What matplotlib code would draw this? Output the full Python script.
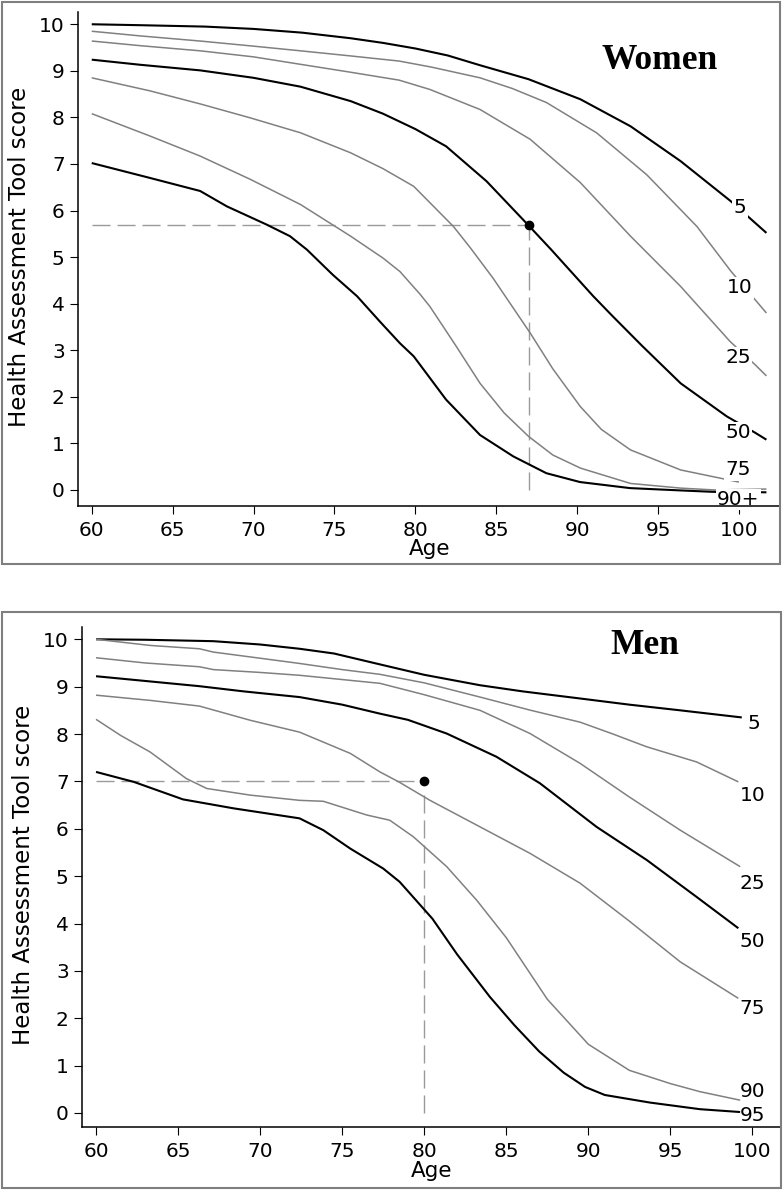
import matplotlib
matplotlib.use("Agg")
import matplotlib.pyplot as plt
from matplotlib.patches import Rectangle

# ---------------- Women (top panel) ----------------
w5_age = [60, 63, 67, 70, 73, 76, 78, 80, 82, 84, 87, 90.2, 93.3, 96.4, 99.5, 101.7]
w5_val = [10.0, 9.98, 9.95, 9.9, 9.82, 9.7, 9.6, 9.48, 9.33, 9.12, 8.82, 8.39, 7.81, 7.06, 6.2, 5.52]
w10_age = [60, 63, 66.7, 70, 72.9, 76, 79, 81, 84, 86, 88.1, 91.2, 94.3, 97.4, 99.5, 101.7]
w10_val = [9.85, 9.75, 9.64, 9.53, 9.43, 9.32, 9.21, 9.08, 8.85, 8.62, 8.32, 7.67, 6.77, 5.66, 4.7, 3.8]
w25_age = [60, 63, 66.7, 70, 72.9, 76, 79, 80.9, 84, 87.1, 90.2, 93.3, 96.4, 99.45, 101, 101.7]
w25_val = [9.64, 9.54, 9.43, 9.3, 9.14, 8.97, 8.8, 8.6, 8.17, 7.53, 6.6, 5.45, 4.37, 3.19, 2.69, 2.45]
w50_age = [60, 63, 66.7, 70, 72.9, 76, 78, 80, 81.9, 84.4, 87, 88.4, 91, 92.2, 94, 96.4, 99.25, 101, 101.7]
w50_val = [9.24, 9.13, 9.01, 8.85, 8.66, 8.35, 8.08, 7.75, 7.38, 6.63, 5.68, 5.16, 4.16, 3.73, 3.1, 2.29, 1.58, 1.23, 1.08]
w75_age = [60, 63.6, 66.7, 69.8, 72.9, 76, 78, 79.9, 82.35, 83.4, 84.8, 87.1, 88.5, 90.2, 91.5, 93.3, 96.4, 100]
w75_val = [8.85, 8.57, 8.29, 7.99, 7.67, 7.24, 6.9, 6.52, 5.66, 5.2, 4.55, 3.37, 2.6, 1.79, 1.3, 0.86, 0.43, 0.17]
w90_age = [60, 63.6, 66.7, 69.8, 72.9, 76, 78, 79.05, 80.3, 80.9, 82.5, 84, 85.5, 87, 88.5, 90.2, 93.3, 96.4, 98.5, 101.7]
w90_val = [8.08, 7.6, 7.17, 6.67, 6.13, 5.45, 4.98, 4.69, 4.2, 3.94, 3.1, 2.29, 1.65, 1.15, 0.75, 0.47, 0.14, 0.04, 0.0, 0.02]
w95_age = [60, 63.6, 66.7, 68.35, 70.8, 72.25, 73.3, 74.9, 76.4, 77.8, 79.05, 79.9, 81.9, 84, 86.06, 88.1, 90.18, 93.27, 96.4, 98.4, 101.7]
w95_val = [7.02, 6.7, 6.42, 6.09, 5.7, 5.45, 5.16, 4.62, 4.16, 3.62, 3.15, 2.87, 1.94, 1.18, 0.72, 0.36, 0.17, 0.04, -0.01, -0.04, -0.05]

# ---------------- Men (bottom panel) ----------------
m5_age = [60, 63, 67.15, 70, 72.4, 74.5, 77.3, 80, 83.4, 86, 89.5, 92.5, 95.6, 99.35]
m5_val = [10.0, 9.99, 9.96, 9.89, 9.8, 9.7, 9.47, 9.25, 9.03, 8.9, 8.75, 8.62, 8.5, 8.35]
m10_age = [60, 63.3, 66.3, 67.15, 70, 72.4, 75, 77.3, 80, 83.4, 86.5, 89.5, 91.5, 93.56, 96.6, 99.14]
m10_val = [10.0, 9.87, 9.8, 9.73, 9.6, 9.49, 9.36, 9.26, 9.08, 8.78, 8.5, 8.25, 8.0, 7.73, 7.41, 6.99]
m25_age = [60, 63, 66.3, 67.15, 70, 72.4, 75, 77.3, 80, 83.4, 86.45, 89.5, 92.5, 95.6, 99.25]
m25_val = [9.61, 9.5, 9.42, 9.36, 9.3, 9.24, 9.15, 9.07, 8.83, 8.5, 8.01, 7.38, 6.67, 5.97, 5.2]
m50_age = [60, 63, 66.3, 69, 72.4, 75, 77.3, 79, 81.37, 84.4, 87.05, 90.5, 93.56, 96.6, 99.14]
m50_val = [9.22, 9.12, 9.01, 8.9, 8.78, 8.62, 8.43, 8.3, 8.01, 7.52, 6.96, 6.04, 5.34, 4.56, 3.9]
m75_age = [60, 63.3, 66.3, 69.4, 72.4, 75.5, 77.3, 78.5, 80.35, 83.4, 86.45, 89.5, 92.5, 95.6, 99.14]
m75_val = [8.82, 8.71, 8.59, 8.29, 8.04, 7.59, 7.2, 6.98, 6.6, 6.04, 5.48, 4.85, 4.05, 3.19, 2.42]
m90_age = [60, 61.5, 63.3, 65.5, 66.75, 69.4, 72.4, 73.85, 76.5, 77.9, 79.34, 81.37, 83.2, 85, 87.5, 90, 92.5, 95, 96.8, 99.25]
m90_val = [8.31, 7.97, 7.62, 7.06, 6.85, 6.71, 6.6, 6.58, 6.29, 6.18, 5.83, 5.2, 4.49, 3.7, 2.4, 1.45, 0.9, 0.62, 0.45, 0.27]
m95_age = [60, 62.3, 65.3, 68.4, 72.4, 73.85, 75.5, 77.5, 78.5, 79.5, 80.5, 82, 84, 85.5, 87, 88.5, 89.8, 91, 93.75, 96.8, 99.25]
m95_val = [7.2, 6.99, 6.62, 6.43, 6.22, 5.97, 5.58, 5.16, 4.88, 4.49, 4.1, 3.35, 2.45, 1.85, 1.3, 0.85, 0.55, 0.38, 0.22, 0.08, 0.02]

percentile_labels_women = ["5", "10", "25", "50", "75", "90+"]
percentile_labels_men = ["5", "10", "25", "50", "75", "90", "95"]
yticks = list(range(0, 11))
xticks = [60, 65, 70, 75, 80, 85, 90, 95, 100]

women_point = (87, 5.68)
men_point = (80, 7.0)

BLACK = "#000000"
GRAY = "#808080"
DASH = "#9a9a9a"
styles = [(BLACK, 1.5), (GRAY, 1.1), (GRAY, 1.1), (BLACK, 1.5), (GRAY, 1.1), (GRAY, 1.1), (BLACK, 1.5)]

TICK_FS = 14.5
fig = plt.figure(figsize=(7.84, 11.93), dpi=100)

# frames
fig.patches.append(Rectangle((0.0029, 0.5272), 0.992, 0.4708, transform=fig.transFigure,
                             fill=False, edgecolor="#7f7f7f", linewidth=1.5, zorder=0))
fig.patches.append(Rectangle((0.0029, 0.0042), 0.9932, 0.4826, transform=fig.transFigure,
                             fill=False, edgecolor="#7f7f7f", linewidth=1.5, zorder=0))

ax1 = fig.add_axes([0.0999, 0.5761, 0.895, 0.4141])
ax2 = fig.add_axes([0.105, 0.0556, 0.8912, 0.4191])


def style_axes(ax, xlim, ylim, age_y):
    ax.set_xlim(*xlim)
    ax.set_ylim(*ylim)
    ax.set_xticks(xticks)
    ax.set_yticks(yticks)
    ax.spines["top"].set_visible(False)
    ax.spines["right"].set_visible(False)
    for s in ("left", "bottom"):
        ax.spines[s].set_linewidth(1.1)
    ax.tick_params(direction="out", length=5.8, width=0.8, labelsize=TICK_FS)
    ax.tick_params(axis="y", pad=4.0)
    ax.tick_params(axis="x", pad=5.5)
    ax.set_xlabel("Age", fontsize=15.5)
    ax.xaxis.set_label_coords(0.5, age_y)
    ax.xaxis.label.set_va("top")
    ax.patch.set_alpha(0)


# ---- Women ----
w_series = [(w5_age, w5_val), (w10_age, w10_val), (w25_age, w25_val), (w50_age, w50_val),
            (w75_age, w75_val), (w90_age, w90_val), (w95_age, w95_val)]
for (xa, ya), (c, lw) in zip(w_series, styles):
    ax1.plot(xa, ya, color=c, linewidth=lw, solid_capstyle="butt", solid_joinstyle="round", zorder=2)

ax1.plot([60, women_point[0]], [women_point[1], women_point[1]], color=DASH, lw=1.0,
         dashes=(13, 5), zorder=1.5)
ax1.plot([women_point[0], women_point[0]], [0, women_point[1]], color=DASH, lw=1.0,
         dashes=(13, 5), zorder=1.5)
ax1.plot([women_point[0]], [women_point[1]], "o", color="black", markersize=6, zorder=4)

w_label_pos = [(100.07, 6.06), (100.07, 4.34), (99.96, 2.84), (99.96, 1.23), (99.96, 0.43), (99.96, -0.2)]
for lab, (lx, ly) in zip(percentile_labels_women, w_label_pos):
    ax1.text(lx, ly, lab, ha="center", va="center", fontsize=TICK_FS, zorder=2.3,
             bbox=dict(facecolor="white", edgecolor="none", pad=0.8))

style_axes(ax1, (59.17, 102.54), (-0.338, 10.27), -0.0682)

# ---- Men ----
m_series = [(m5_age, m5_val), (m10_age, m10_val), (m25_age, m25_val), (m50_age, m50_val),
            (m75_age, m75_val), (m90_age, m90_val), (m95_age, m95_val)]
for (xa, ya), (c, lw) in zip(m_series, styles):
    ax2.plot(xa, ya, color=c, linewidth=lw, solid_capstyle="butt", solid_joinstyle="round", zorder=2)

ax2.plot([60, men_point[0]], [men_point[1], men_point[1]], color=DASH, lw=1.0,
         dashes=(13, 5), zorder=1.5)
ax2.plot([men_point[0], men_point[0]], [0, men_point[1] - 0.25], color=DASH, lw=1.0,
         dashes=(13, 5), zorder=1.5)
ax2.plot([men_point[0]], [men_point[1]], "o", color="black", markersize=6, zorder=4)

m_label_pos = [(100.1, 8.23), (100.0, 6.71), (100.0, 4.85), (100.0, 3.61), (100.0, 2.21),
               (100.0, 0.45), (100.0, -0.06)]
for lab, (lx, ly) in zip(percentile_labels_men, m_label_pos):
    ax2.text(lx, ly, lab, ha="center", va="center", fontsize=TICK_FS, zorder=2.3)

style_axes(ax2, (59.165, 101.74), (-0.289, 10.266), -0.0688)

# y labels
fig.text(7.5 / 784, 0.7846, "Health Assessment Tool score", rotation=90, ha="left", va="center",
         fontsize=16.5)
fig.text(11.5 / 784, 0.2666, "Health Assessment Tool score", rotation=90, ha="left", va="center",
         fontsize=16.5)

# panel titles
fig.text(0.8418, 0.9489, "Women", ha="center", va="center", fontsize=25.5, fontweight="bold",
         family="Liberation Serif")
fig.text(0.8231, 0.4593, "Men", ha="center", va="center", fontsize=25.5, fontweight="bold",
         family="Liberation Serif")

fig.savefig("out.png", dpi=100)
